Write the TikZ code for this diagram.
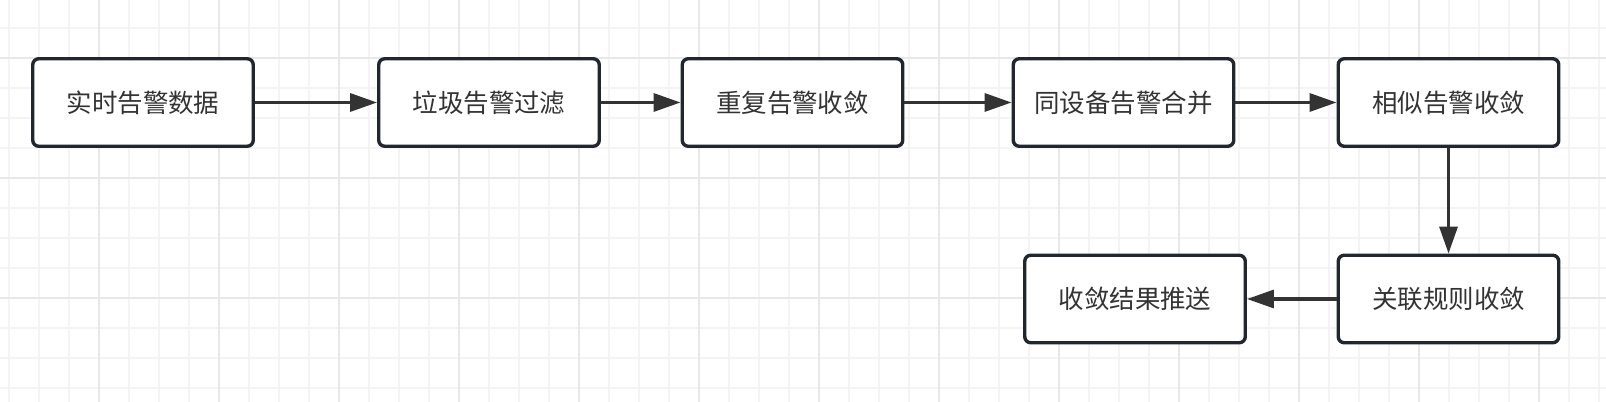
\documentclass[tikz,border=0pt]{standalone}
\usepackage{fontspec}
\setmainfont{Noto Sans CJK SC}
\usetikzlibrary{arrows.meta}
\definecolor{gridminor}{HTML}{F4F4F4}
\definecolor{gridmajor}{HTML}{E8E8E8}
\definecolor{boxline}{HTML}{22272E}
\definecolor{flowgray}{HTML}{333333}
\begin{document}
\begin{tikzpicture}[x=1cm,y=1cm,
	stage/.style={rectangle, rounded corners=0.06cm, draw=boxline, line width=0.034cm, fill=white,
		minimum width=2.205cm, minimum height=0.875cm, inner sep=0pt, text=flowgray,
		font=\fontsize{7.25pt}{8pt}\selectfont},
	flow/.style={draw=flowgray, line width=0.033cm, -{Triangle[length=0.27cm,width=0.18cm]}}]
	\useasboundingbox (0,0) rectangle (16.06,-4.02);
	\fill[white] (0,0) rectangle (16.06,-4.02);
	% background grid
	\foreach \x in {0.09,0.39,...,16.05} \draw[gridminor, line width=0.015cm] (\x,0) -- (\x,-4.02);
	\foreach \y in {-0.28,-0.58,...,-4.0} \draw[gridminor, line width=0.015cm] (0,\y) -- (16.06,\y);
	\foreach \x in {0.99,2.19,...,16.05} \draw[gridmajor, line width=0.015cm] (\x,0) -- (\x,-4.02);
	\foreach \y in {-0.58,-1.78,-2.98} \draw[gridmajor, line width=0.015cm] (0,\y) -- (16.06,\y);
	% stages
	\node (S1) at ( 1.43 , -1.025)	[stage]	{实时告警数据};
	\node (S2) at ( 4.89 , -1.025)	[stage]	{垃圾告警过滤};
	\node (S3) at ( 7.925, -1.025)	[stage]	{重复告警收敛};
	\node (S4) at (11.235, -1.025)	[stage]	{同设备告警合并};
	\node (S5) at (14.485, -1.025)	[stage]	{相似告警收敛};
	\node (S6) at (14.485, -2.99)	[stage]	{关联规则收敛};
	\node (S7) at (11.35 , -2.99)	[stage]	{收敛结果推送};
	\draw[flow] (S1) -- (S2);
	\draw[flow] (S2) -- (S3);
	\draw[flow] (S3) -- (S4);
	\draw[flow] (S4) -- (S5);
	\draw[flow] (S5) -- (S6);
	\draw[flow] (S6) -- (S7);
\end{tikzpicture}
\end{document}
